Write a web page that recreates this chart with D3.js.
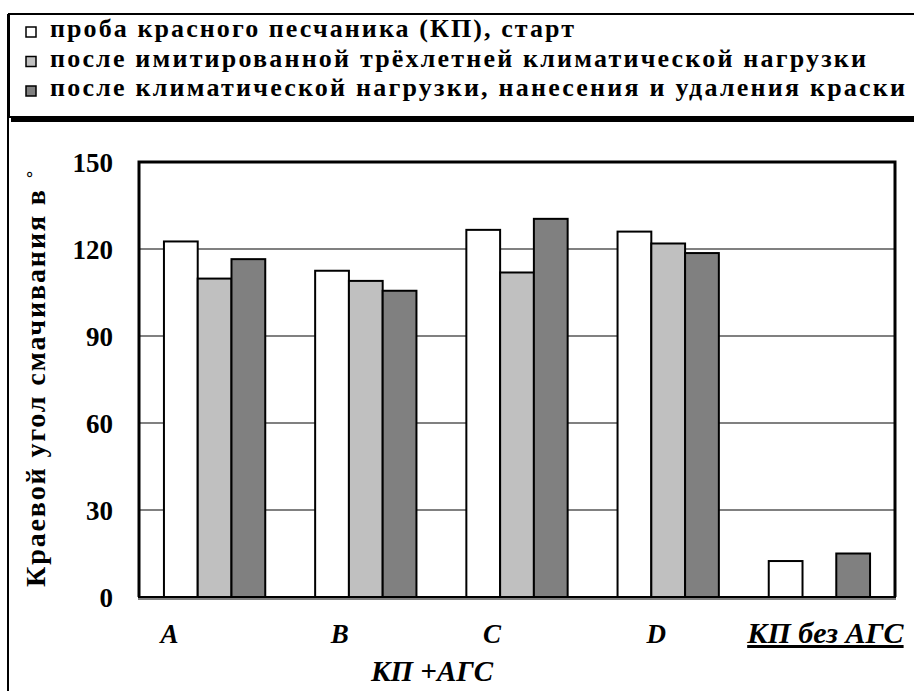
<!DOCTYPE html>
<html>
<head>
<meta charset="utf-8">
<script src="https://cdn.jsdelivr.net/npm/d3@7"></script>
<style>
	body { margin: 0; background: white; }
</style>
</head>
<body>
<script>
const w = 914
const h = 691
const serif = "Liberation Serif"

// data
const categories = ["A", "B", "C", "D", "КП без АГС"]
const seriesNames = [
	"проба красного песчаника (КП), старт",
	"после имитированной трёхлетней климатической нагрузки",
	"после климатической нагрузки, нанесения и удаления краски"
]
const startValues = [122.6, 112.5, 126.6, 126.0, 12.4]
const climateValues = [109.8, 109.0, 111.9, 121.9, null]
const paintValues = [116.5, 105.6, 130.4, 118.6, 15.0]
const yTicks = [0, 30, 60, 90, 120, 150]
const groupLabel = "КП +АГС"
const yTitle = "Краевой угол смачивания в"

const colors = ["#ffffff", "#c0c0c0", "#808080"]
const labelDx = [-45, -26, -25, -12, 6]
const legendLengths = [524, 816, 855]

const plot = { left: 139, right: 895, top: 162, bottom: 597 }

const svg = d3.select("body")
	.append("svg")
	.attr("width", w)
	.attr("height", h)
	.attr("font-family", serif)
	.attr("font-weight", "bold")

let addText = (g, size) => g
	.append("text")
	.attr("font-family", serif)
	.attr("font-weight", "bold")
	.attr("font-size", size)
	.attr("fill", "black")

// outer frame and legend box
svg.append("line")
	.attr("x1", 8).attr("x2", 8)
	.attr("y1", 14).attr("y2", h)
	.attr("stroke", "black")
	.attr("stroke-width", 2)

svg.append("rect")
	.attr("x", 9)
	.attr("y", 14)
	.attr("width", w)
	.attr("height", 103)
	.attr("fill", "white")
	.attr("stroke", "black")
	.attr("stroke-width", 2)

svg.append("rect")
	.attr("x", 11)
	.attr("y", 116)
	.attr("width", w)
	.attr("height", 6)
	.attr("fill", "black")

let legend = svg.append("g")
	.selectAll("g")
	.data(seriesNames)
	.enter()
	.append("g")
	.attr("transform", (d, i) => "translate(26," + (27 + i * 29.5) + ")")

legend.append("rect")
	.attr("width", 10)
	.attr("height", 10)
	.attr("fill", (d, i) => colors[i])
	.attr("stroke", "black")
	.attr("stroke-width", 1.5)

legend.each(function(d, i) {
	addText(d3.select(this), 26)
		.attr("x", 24)
		.attr("y", 10)
		.attr("textLength", legendLengths[i])
		.attr("lengthAdjust", "spacing")
		.text(d)
})

// scales
let xScale = d3.scaleBand()
	.domain(categories)
	.range([plot.left, plot.right])

let bw = xScale.bandwidth()

let xInner = d3.scaleBand()
	.domain([0, 1, 2])
	.range([bw * 0.165, bw * 0.835])

let yScale = d3.scaleLinear()
	.domain([0, 150])
	.range([plot.bottom, plot.top])

// gridlines
svg.append("g")
	.selectAll("line")
	.data(yTicks.filter(t => t > 0 && t < 150))
	.enter()
	.append("line")
	.attr("x1", plot.left)
	.attr("x2", plot.right)
	.attr("y1", d => yScale(d))
	.attr("y2", d => yScale(d))
	.attr("stroke", "#808080")
	.attr("stroke-width", 2)

// bars
let table = categories.map((c, i) => ({
	cat: c,
	vals: [startValues[i], climateValues[i], paintValues[i]]
}))

let groups = svg.append("g")
	.selectAll("g")
	.data(table)
	.enter()
	.append("g")
	.attr("transform", d => "translate(" + xScale(d.cat) + ",0)")

groups.selectAll("rect")
	.data(d => d.vals.map((v, k) => ({ v: v, k: k })).filter(p => p.v != null))
	.enter()
	.append("rect")
	.attr("x", d => xInner(d.k))
	.attr("y", d => yScale(d.v))
	.attr("width", xInner.bandwidth())
	.attr("height", d => yScale(0) - yScale(d.v))
	.attr("fill", d => colors[d.k])
	.attr("stroke", "black")
	.attr("stroke-width", 2)

// plot frame
svg.append("path")
	.attr("d", "M" + plot.left + "," + plot.bottom + "V" + plot.top + "H" + plot.right + "V" + plot.bottom)
	.attr("fill", "none")
	.attr("stroke", "black")
	.attr("stroke-width", 3)

svg.append("line")
	.attr("x1", plot.left - 1).attr("x2", plot.right + 1)
	.attr("y1", plot.bottom + 2).attr("y2", plot.bottom + 2)
	.attr("stroke", "#808080")
	.attr("stroke-width", 2)

svg.append("line")
	.attr("x1", plot.left - 1).attr("x2", plot.right + 1)
	.attr("y1", plot.bottom).attr("y2", plot.bottom)
	.attr("stroke", "black")
	.attr("stroke-width", 2)

// y axis
let yAxis = d3.axisLeft(yScale)
	.tickValues(yTicks)
	.tickSize(0)
	.tickPadding(26)

let yAxisG = svg.append("g")
	.attr("transform", "translate(" + plot.left + ",0)")
	.call(yAxis)
	.attr("font-family", serif)

yAxisG.select(".domain").remove()
yAxisG.selectAll("text")
	.attr("font-family", serif)
	.attr("font-size", 27)
	.attr("font-weight", "bold")
	.attr("fill", "black")
	.attr("dy", "0.36em")

addText(svg, 28)
	.attr("transform", "translate(45,587) rotate(-90)")
	.attr("textLength", 397)
	.attr("lengthAdjust", "spacing")
	.text(yTitle)

addText(svg, 18)
	.attr("transform", "translate(40,179) rotate(-90)")
	.attr("font-weight", "normal")
	.attr("font-family", "DejaVu Sans")
	.text("°")

// category labels
categories.forEach((c, i) => {
	addText(svg, i == 4 ? 30 : 27)
		.attr("x", xScale(c) + bw / 2 + labelDx[i])
		.attr("y", 643)
		.attr("text-anchor", "middle")
		.attr("font-style", "italic")
		.attr("text-decoration", i == 4 ? "underline" : null)
		.text(c)
})

addText(svg, 29)
	.attr("x", 432)
	.attr("y", 681)
	.attr("text-anchor", "middle")
	.attr("font-style", "italic")
	.text(groupLabel)
</script>
</body>
</html>
